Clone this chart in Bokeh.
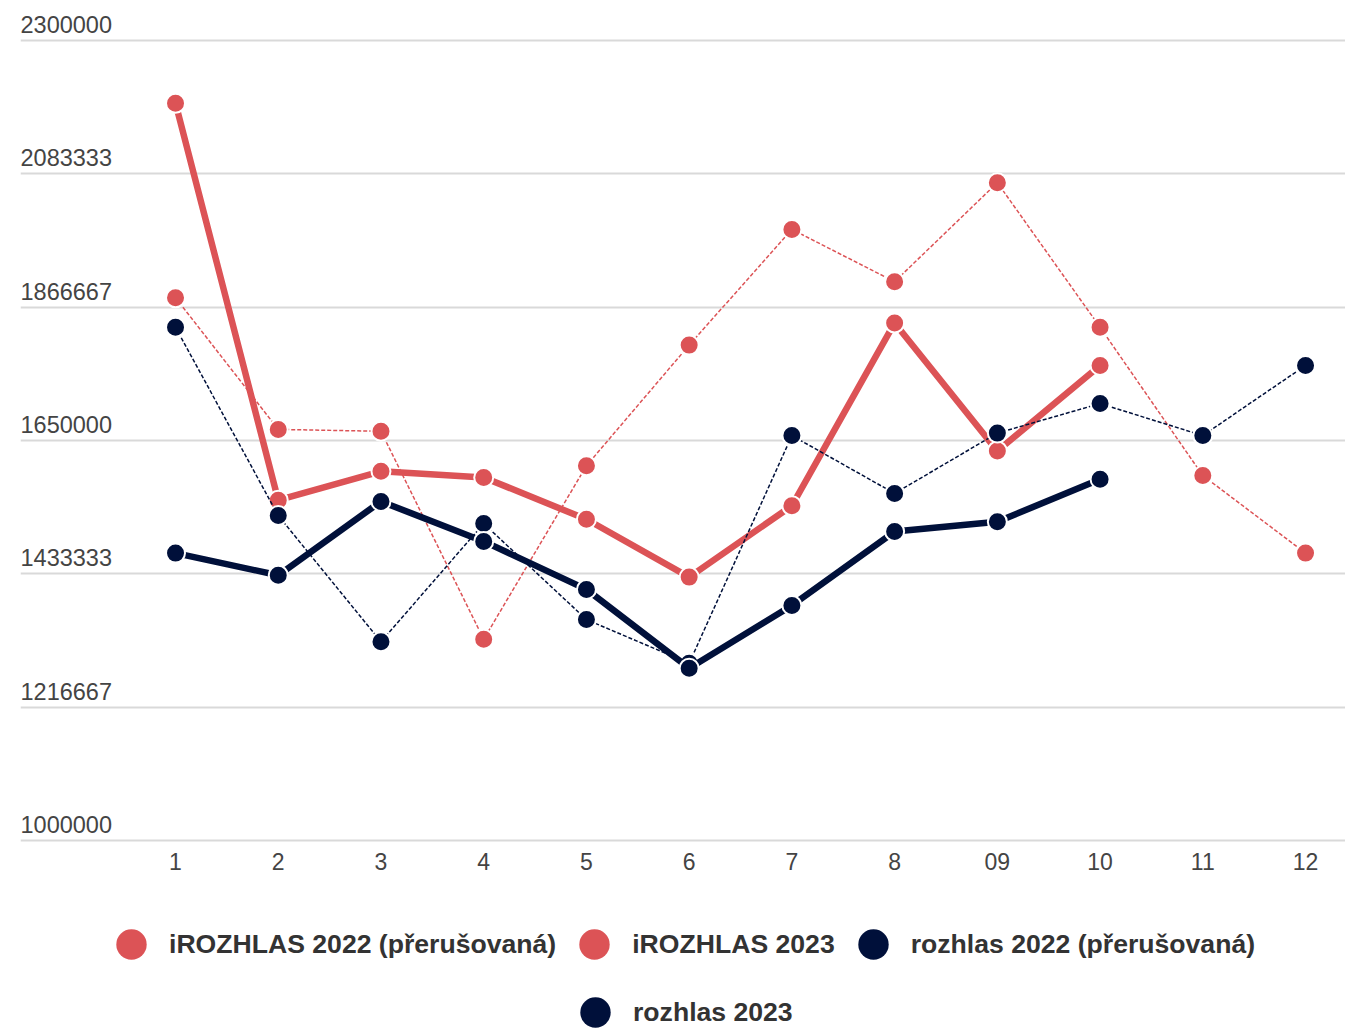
from bokeh.plotting import figure
from bokeh.layouts import column
from bokeh.models import FixedTicker, Label, Legend, LegendItem, Range1d
from bokeh.embed import file_html
from bokeh.resources import INLINE

months = [1, 2, 3, 4, 5, 6, 7, 8, 9, 10, 11, 12]
month_labels = ["1", "2", "3", "4", "5", "6", "7", "8", "09", "10", "11", "12"]

y_ticks = [1000000, 1216667, 1433333, 1650000, 1866667, 2083333, 2300000]
y_tick_labels = ["1000000", "1216667", "1433333", "1650000", "1866667", "2083333", "2300000"]

irozhlas_2022 = [1882000, 1668000, 1665000, 1327000, 1609000, 1805000,
                 1993000, 1908000, 2069000, 1834000, 1593000, 1467000]
irozhlas_2023 = [2198000, 1553000, 1600000, 1590000, 1522000, 1428000,
                 1544000, 1841000, 1633000, 1772000]
rozhlas_2022 = [1834000, 1528000, 1323000, 1515000, 1359000, 1288000,
                1658000, 1564000, 1662000, 1710000, 1658000, 1772000]
rozhlas_2023 = [1467000, 1431000, 1551000, 1486000, 1408000, 1280000,
                1382000, 1502000, 1518000, 1587000]

series_names = ["iROZHLAS 2022 (přerušovaná)", "iROZHLAS 2023",
                "rozhlas 2022 (přerušovaná)", "rozhlas 2023"]

RED = "#dc5356"
NAVY = "#00103a"
TEXT = "#444444"
FONT = "Liberation Sans"

# frame spans pixels 0..842 vertically; 1 px = 1625 units
p = figure(width=1345, height=900, output_backend="svg", toolbar_location=None,
           x_range=Range1d(-0.509, 12.389), y_range=Range1d(996750, 2365000),
           y_axis_location=None,
           min_border_left=20, min_border_right=0, min_border_top=0,
           min_border_bottom=58, background_fill_color="white",
           border_fill_color="white")
p.outline_line_color = None
p.xgrid.visible = False
p.ygrid.ticker = FixedTicker(ticks=y_ticks)
p.ygrid.grid_line_color = "#d9d9d9"
p.ygrid.grid_line_width = 2

xa = p.xaxis[0]
xa.ticker = FixedTicker(ticks=months)
xa.major_label_overrides = {m: l for m, l in zip(months, month_labels)}
xa.axis_line_color = None
xa.major_tick_line_color = None
xa.minor_tick_line_color = None
xa.major_tick_out = 0
xa.major_tick_in = 0
xa.major_label_standoff = 10
xa.major_label_text_font_size = "23px"
xa.major_label_text_color = TEXT
xa.major_label_text_font = FONT

for v, t in zip(y_ticks, y_tick_labels):
    p.add_layout(Label(x=0, x_units="screen", y=v, y_units="data", text=t,
                       text_font_size="23.5px", text_color=TEXT, text_font=FONT,
                       text_baseline="middle", text_align="left", y_offset=16))

specs = [
    (irozhlas_2022, RED, 1.5, "4 2"),
    (irozhlas_2023, RED, 6.5, "solid"),
    (rozhlas_2022, NAVY, 1.5, "4 2"),
    (rozhlas_2023, NAVY, 6.5, "solid"),
]
for vals, color, lw, dash in specs:
    xs = months[:len(vals)]
    p.line(xs, vals, line_color=color, line_width=lw, line_dash=dash)
    p.scatter(xs, vals, marker="circle", size=19, fill_color=color,
              line_color="white", line_width=2)

# legend strip below the chart
lf = figure(width=1345, height=131, output_backend="svg", toolbar_location=None,
            x_range=Range1d(0, 1345), y_range=Range1d(0, 131),
            x_axis_location=None, y_axis_location=None,
            min_border=0, background_fill_color="white", border_fill_color="white")
lf.outline_line_color = None
lf.xgrid.visible = False
lf.ygrid.visible = False

colors = [RED, RED, NAVY, NAVY]
# legend proxies, placed outside the visible range
proxies = [lf.scatter([-100], [-100], marker="circle", size=19, fill_color=c, line_color=None)
           for c in colors]

common = dict(orientation="horizontal", glyph_width=76, glyph_height=80,
              label_standoff=0, spacing=0, padding=0, margin=0,
              background_fill_alpha=0, border_line_color=None,
              label_text_font_size="26.6px", label_text_font_style="bold",
              label_text_color="#333333", label_text_font=FONT)

leg1 = Legend(items=[LegendItem(label=series_names[i], renderers=[proxies[i]]) for i in range(3)],
              location=(73, 47), **common)
leg2 = Legend(items=[LegendItem(label=series_names[3], renderers=[proxies[3]])],
              location=(537, -21), **common)
lf.add_layout(leg1)
lf.add_layout(leg2)

layout = column(p, lf, spacing=0)
open("out.html", "w").write(file_html(layout, INLINE))
